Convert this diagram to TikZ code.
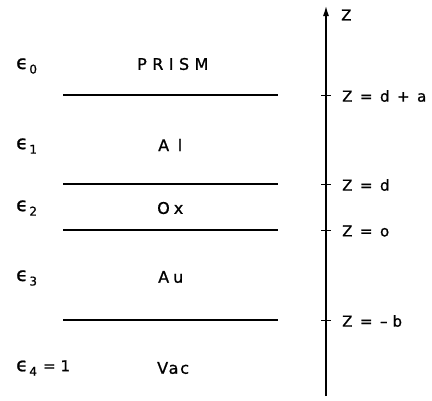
\documentclass[tikz,border=0pt]{standalone}
\usepackage{fontspec}
\setmainfont{DejaVu Sans}[FakeBold=1]
\usetikzlibrary{arrows.meta}
\newcommand{\epsl}[1]{{\fontsize{19}{20}\selectfont ϵ}\kern1.5pt\raisebox{-4.5pt}{\fontsize{12}{13}\selectfont #1}}
\newcommand{\gp}{\hspace{7.5pt}}
\begin{document}
\begin{tikzpicture}[x=1pt,y=-1pt,
  lay/.style={line width=1.5pt},
  tick/.style={line width=1pt},
  lbl/.style={inner sep=0pt, anchor=west},
  eps/.style={inner sep=0pt, anchor=west},
  zl/.style={font=\fontsize{15}{17}\selectfont, inner sep=0pt, anchor=west}]
\useasboundingbox (0,0) rectangle (432,400);
% axis
\coordinate (ab) at (326,396);
\coordinate (at) at (326,6);
\draw[line width=1.2pt,-{Latex[length=10pt,width=6pt]}] (ab) -- (at);
\node[zl] (zt) at (341,15) {Z};
% layer lines
\foreach \n/\y in {l1/95,l2/184,l3/230,l4/320}{
  \coordinate (\n a) at (63,\y);
  \coordinate (\n b) at (278,\y);
  \draw[lay] (\n a) -- (\n b);
  \coordinate (\n t1) at (321,\y);
  \coordinate (\n t2) at (331,\y);
  \draw[tick] (\n t1) -- (\n t2);
}
\node[zl] (z1) at (342,96) {Z\gp=\gp d\gp+\gp a};
\node[zl] (z2) at (342,185) {Z\gp=\gp d};
\node[zl] (z3) at (342,231) {Z\gp=\gp o};
\node[zl] (z4) at (342,321) {Z\gp=\gp--\hspace{5pt}b};
% layer names
\node[lbl,font=\fontsize{16}{18}\selectfont\addfontfeature{LetterSpace=34}] (m0) at (137,64) {PRISM};
\node[lbl,font=\fontsize{16}{18}\selectfont\addfontfeature{LetterSpace=54}] (m1) at (158,145) {Al};
\node[lbl,font=\fontsize{16}{18}\selectfont\addfontfeature{LetterSpace=25}] (m2) at (157,208) {Ox};
\node[lbl,font=\fontsize{16}{18}\selectfont\addfontfeature{LetterSpace=25}] (m3) at (158,277) {Au};
\node[lbl,font=\fontsize{16}{18}\selectfont\addfontfeature{LetterSpace=11}] (m4) at (157,368) {Vac};
% epsilons
\node[eps] (e0) at (16,66) {\epsl{0}};
\node[eps] (e1) at (16,146) {\epsl{1}};
\node[eps] (e2) at (16,208) {\epsl{2}};
\node[eps] (e3) at (16,278) {\epsl{3}};
\node[eps] (e4) at (16,368) {\epsl{4}\kern6pt{\fontsize{15}{17}\selectfont =\kern5pt 1}};
\end{tikzpicture}
\end{document}
